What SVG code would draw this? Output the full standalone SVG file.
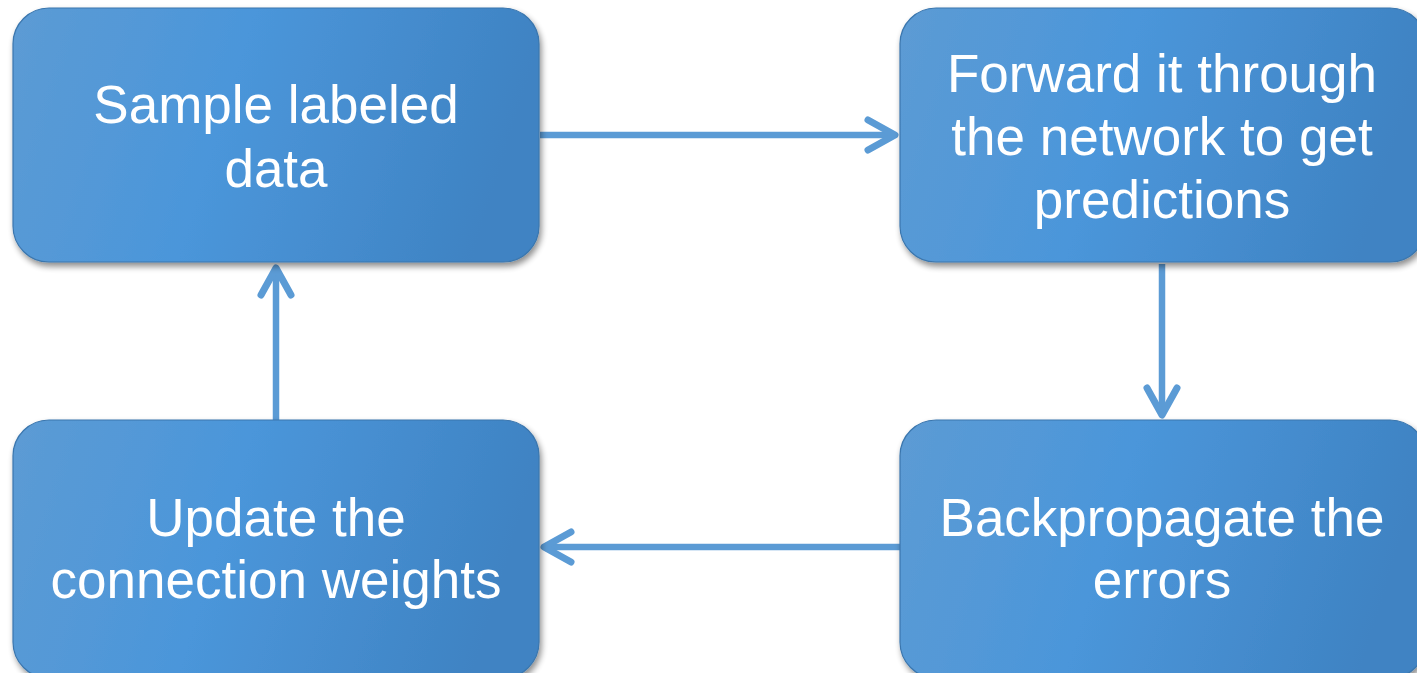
<svg xmlns="http://www.w3.org/2000/svg" width="1417" height="673" viewBox="0 0 1417 673">
  <defs>
    <linearGradient id="boxFill" x1="0" y1="0" x2="1" y2="0.15">
      <stop offset="0" stop-color="#5C9BD4"/>
      <stop offset="0.45" stop-color="#4B96DA"/>
      <stop offset="1" stop-color="#3F83C3"/>
    </linearGradient>
    <filter id="shadow" x="-5%" y="-5%" width="115%" height="120%">
      <feGaussianBlur in="SourceAlpha" stdDeviation="3"/>
      <feOffset dx="2" dy="4" result="b"/>
      <feComponentTransfer><feFuncA type="linear" slope="0.45"/></feComponentTransfer>
      <feMerge><feMergeNode/><feMergeNode in="SourceGraphic"/></feMerge>
    </filter>
    <!-- open chevron head with rounded ends -->
    <marker id="chev" viewBox="-40 -25 50 50" refX="0" refY="0" markerWidth="50" markerHeight="50" markerUnits="userSpaceOnUse" orient="auto" overflow="visible">
      <path d="M-27,-15 L0,0 L-27,15" fill="none" stroke="#5B9BD5" stroke-width="7" stroke-linecap="round" stroke-linejoin="round"/>
    </marker>
  </defs>
  <style>
    .box { fill: url(#boxFill); stroke: #3A76AE; stroke-width: 1.2; filter: url(#shadow); }
    .label { font-family: "Liberation Sans", Arial, sans-serif; font-size: 53px; fill: #FFFFFF; text-anchor: middle; }
    .conn { fill: none; stroke: #5B9BD5; stroke-width: 6.5; marker-end: url(#chev); }
  </style>

  <g id="connectors">
    <line class="conn" x1="540" y1="135" x2="895" y2="135"/>
    <line class="conn" x1="1162" y1="264" x2="1162" y2="415"/>
    <line class="conn" x1="900" y1="547" x2="544" y2="547"/>
    <line class="conn" x1="276" y1="420" x2="276" y2="268"/>
  </g>

  <g id="node-sample">
    <rect class="box" x="13" y="8" width="526" height="254" rx="36"/>
    <text class="label" x="276" y="123">Sample labeled</text>
    <text class="label" x="276" y="187">data</text>
  </g>

  <g id="node-forward">
    <rect class="box" x="900" y="8" width="526" height="254" rx="36"/>
    <text class="label" x="1162" y="92">Forward it through</text>
    <text class="label" x="1162" y="155">the network to get</text>
    <text class="label" x="1162" y="218">predictions</text>
  </g>

  <g id="node-backprop">
    <rect class="box" x="900" y="420" width="526" height="258" rx="36"/>
    <text class="label" x="1162" y="536">Backpropagate the</text>
    <text class="label" x="1162" y="598">errors</text>
  </g>

  <g id="node-update">
    <rect class="box" x="13" y="420" width="526" height="258" rx="36"/>
    <text class="label" x="276" y="536">Update the</text>
    <text class="label" x="276" y="598">connection weights</text>
  </g>
</svg>
